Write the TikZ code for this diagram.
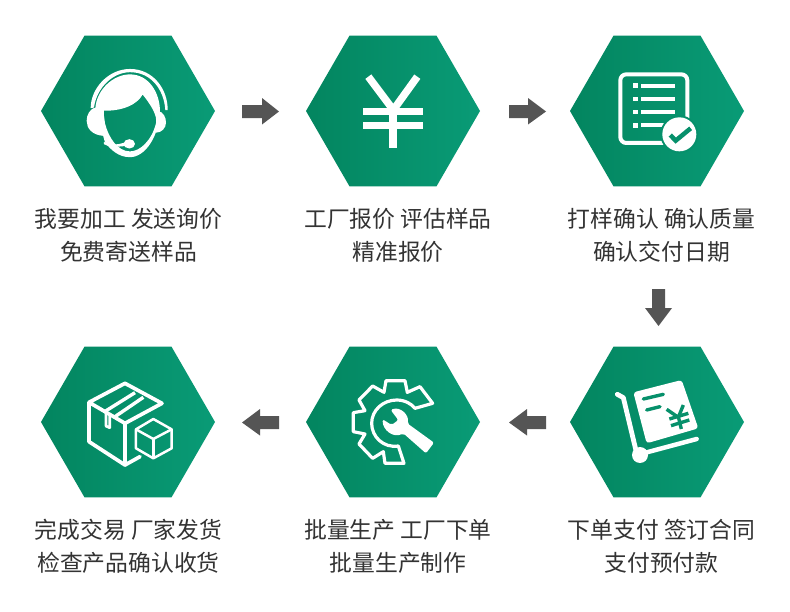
\documentclass[tikz,border=0pt]{standalone}
\usepackage{fontspec}
\setmainfont{Noto Sans CJK SC}
\usetikzlibrary{shapes.geometric}
\definecolor{hexL}{HTML}{03855F}
\definecolor{hexR}{HTML}{099B76}
\definecolor{hexM}{HTML}{06906B}
\definecolor{arrowgray}{HTML}{555555}
\definecolor{txt}{HTML}{333333}
\tikzset{
  hexnode/.style={regular polygon,regular polygon sides=6,minimum size=174pt,inner sep=0pt,left color=hexL,right color=hexR,draw=none},
  caption/.style={text=txt,font=\fontsize{22.8}{33}\selectfont,align=center,inner sep=0pt},
  blockarrow/.style={fill=arrowgray,draw=none},
  icon/.style={x=0.3333pt,y=-0.3333pt},
  wl/.style={draw=white,line join=round},
}
\begin{document}
\begin{tikzpicture}[x=1pt,y=-1pt]
\useasboundingbox (0,0) rectangle (790,611);
\fill[white] (0,0) rectangle (790,611);
% hexagons
\node[hexnode] (h1) at (128,111) {};
\node[hexnode] (h2) at (393,111) {};
\node[hexnode] (h3) at (657,111) {};
\node[hexnode] (h4) at (657,422) {};
\node[hexnode] (h5) at (393,422) {};
\node[hexnode] (h6) at (128,422) {};
% captions
\node[caption] (t1) at (128.5,235.5) {我要加工 发送询价\\免费寄送样品};
\node[caption] (t2) at (398,235.5) {工厂报价 评估样品\\精准报价};
\node[caption] (t3) at (661.5,235.5) {打样确认 确认质量\\确认交付日期};
\node[caption] (t4) at (661.5,546.5) {下单支付 签订合同\\支付预付款};
\node[caption] (t5) at (398,546.5) {批量生产 工厂下单\\批量生产制作};
\node[caption] (t6) at (128.5,546.5) {完成交易 厂家发货\\检查产品确认收货};
% arrows
\fill[blockarrow] (242,105) -- (262,105) -- (262,98) -- (279,111.5) -- (262,124.5) -- (262,118) -- (242,118) -- cycle;
\fill[blockarrow] (509,105) -- (528,105) -- (528,98) -- (546,111.5) -- (528,124.5) -- (528,118) -- (509,118) -- cycle;
\fill[blockarrow] (652,289) -- (665,289) -- (665,308) -- (672,308) -- (658.5,326) -- (645,308) -- (652,308) -- cycle;
\fill[blockarrow] (546,416) -- (527,416) -- (527,409) -- (509,422.5) -- (527,435.5) -- (527,429) -- (546,429) -- cycle;
\fill[blockarrow] (279,416) -- (260,416) -- (260,409) -- (242,422.5) -- (260,435.5) -- (260,429) -- (279,429) -- cycle;
% icon 1: headset
\begin{scope}[shift={(80,61.4)},x=0.3333pt,y=-0.36pt]
\fill[white] (32,130) .. controls (32,75) and (85,21) .. (150,21) .. controls (222,21) and (264,80) .. (263,135) -- (256,135) .. controls (252,80) and (215,30) .. (150,30) .. controls (100,30) and (50,72) .. (42,128) -- cycle;
\fill[white,even odd rule] (46,130) .. controls (50,78) and (100,36) .. (150,36) .. controls (205,36) and (240,85) .. (240,140) .. controls (236,210) and (195,266) .. (150,266) .. controls (115,266) and (92,245) .. (75,225) -- cycle
 (70,137) .. controls (125,138) and (170,122) .. (188,92) .. controls (212,120) and (233,150) .. (228,172) .. controls (215,220) and (180,250) .. (150,250) .. controls (112,250) and (85,210) .. (75,172) -- cycle;
\fill[white] (50,128) .. controls (28,130) and (20,150) .. (20,165) .. controls (20,185) and (35,205) .. (72,207) -- (72,128) -- cycle;
\fill[white] (234,138) .. controls (250,140) and (258,155) .. (258,170) .. controls (258,185) and (245,198) .. (228,198) -- cycle;
\fill[white] (72,224) .. controls (90,232) and (110,233) .. (135,225) -- (135,235) .. controls (110,238) and (85,238) .. (72,230) -- cycle;
\fill[white] (148,229) ellipse [x radius=17,y radius=13];
\end{scope}
% icon 2: yen
\begin{scope}[shift={(300,25)},icon]
\draw[white,line width=7.5pt] (205,155) -- (280,255) -- (352,155);
\fill[white] (190,248) rectangle (368,270);
\fill[white] (190,291) rectangle (368,313);
\fill[white] (268,250) rectangle (291,369);
\end{scope}
% icon 3: checklist
\begin{scope}[shift={(560,25)},icon]
\draw[white,line width=4pt,rounded corners=6pt] (181,148) rectangle (382,354);
\foreach \yy in {182,222,261,301}{\fill[white] (219,\yy-7) rectangle (233,\yy+7);}
\foreach \yy in {182,222,261}{\fill[white] (243,\yy-6) rectangle (346,\yy+6);}
\fill[white] (243,295) rectangle (320,307);
\fill[hexM] (358,328) circle [radius=57];
\fill[white] (358,328) circle [radius=51];
\draw[hexM,line width=4.5pt] (331,330) -- (347,347) -- (392,310);
\end{scope}
% icon 4: trolley
\begin{scope}[shift={(610,375)},icon]
\draw[white,line width=4.8pt,line cap=round,line join=round] (22,58) -- (40,68) -- (80,235);
\draw[white,line width=4.5pt,line cap=round] (88,238) -- (260,192);
\fill[white] (90,240) circle [radius=24];
\fill[white,rounded corners=3pt] (70,52) -- (215,15) -- (265,160) -- (110,205) -- cycle;
\draw[hexM,line width=3.4pt,line cap=round] (100,72) -- (160,58);
\draw[hexM,line width=3.4pt,line cap=round] (110,105) -- (150,95);
\draw[hexM,line width=3.4pt] (170,103) -- (205,127) -- (220,90);
\draw[hexM,line width=3.4pt] (178,132) -- (235,115);
\draw[hexM,line width=3.4pt] (183,152) -- (238,135);
\draw[hexM,line width=3.4pt] (205,125) -- (214,162);
\end{scope}
% icon 5: gear and wrench
\begin{scope}[shift={(300,340)},icon]
\draw[wl,line width=3.2pt] (398,190) -- (360,140) -- (322,157) -- (315,122) -- (258,122) -- (252,157) -- (218,138) -- (177,180) -- (195,212) -- (160,218) -- (160,275) -- (195,282) -- (177,312) -- (218,355) -- (250,335) -- (255,370) -- (312,370) -- (295,318) .. controls (250,325) and (215,290) .. (215,250) .. controls (215,210) and (250,180) .. (290,180) .. controls (315,180) and (335,192) .. (345,205) -- cycle;
\fill[white,rounded corners=2pt] (272,210) .. controls (300,198) and (328,225) .. (322,250) -- (402,308) -- (378,340) -- (310,280) .. controls (280,295) and (248,270) .. (248,238) -- (275,255) -- (295,240) -- cycle;
\end{scope}
% icon 6: boxes
\begin{scope}[shift={(30,340)},icon]
\draw[wl,line width=3.7pt] (285,250) -- (177,187) -- (285,130) -- (396,190) -- (285,250) -- (285,375) -- (177,305) -- (177,187);
\draw[wl,line width=3.7pt,line cap=round] (285,375) -- (330,350);
\draw[wl,line width=3.4pt] (227,213) -- (315,158);
\draw[wl,line width=3.4pt] (255,230) -- (340,172);
\draw[wl,line width=2.8pt] (228,215) -- (228,258) -- (239,263) -- (239,222);
\draw[wl,line width=2.5pt] (370,237) -- (425,268) -- (425,325) -- (370,355) -- (318,325) -- (318,268) -- cycle;
\draw[wl,line width=2.5pt] (318,268) -- (370,297) -- (425,268);
\draw[wl,line width=2.5pt] (370,297) -- (370,355);
\end{scope}
\end{tikzpicture}
\end{document}
